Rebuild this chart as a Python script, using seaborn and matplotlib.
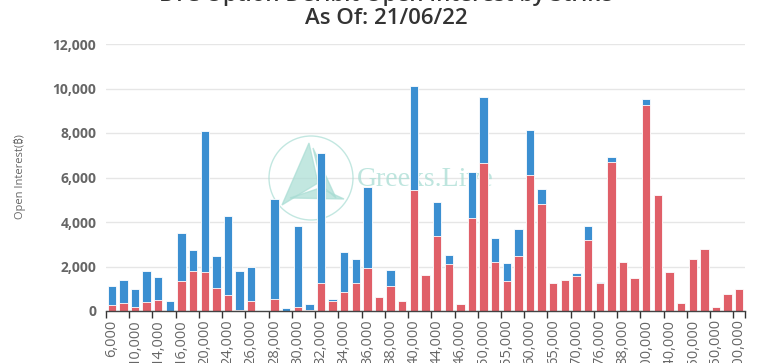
import matplotlib
matplotlib.use("Agg")
import matplotlib.pyplot as plt
import seaborn as sns
import pandas as pd
from matplotlib.patches import Ellipse, Polygon
from matplotlib.ticker import FuncFormatter

# strikes (category axis), call OI (red, bottom) and put OI (blue, stacked on top)
strikes = ["6,000", "8,000", "10,000", "12,000", "14,000", "15,000", "16,000", "18,000",
           "20,000", "22,000", "24,000", "25,000", "26,000", "27,000", "28,000", "29,000",
           "30,000", "31,000", "32,000", "33,000", "34,000", "35,000", "36,000", "37,000",
           "38,000", "39,000", "40,000", "42,000", "44,000", "45,000", "46,000", "48,000",
           "50,000", "52,000", "55,000", "58,000", "60,000", "62,000", "65,000", "68,000",
           "70,000", "72,000", "76,000", "80,000", "88,000", "90,000", "100,000", "120,000",
           "140,000", "145,000", "150,000", "200,000", "250,000", "300,000", "400,000"]
calls_oi = [270, 380, 180, 390, 510, 0, 1350, 1800, 1750, 1020, 720, 40, 450, 0,
            520, 0, 160, 30, 1250, 460, 850, 1260, 1920, 625, 1145, 460, 5430, 1640,
            3375, 2100, 330, 4180, 6650, 2220, 1370, 2480, 6100, 4820, 1280, 1400,
            1590, 3200, 1260, 6680, 2190, 1490, 9260, 5230, 1750, 340, 2340, 2770,
            160, 770, 1000]
puts_oi = [860, 1020, 810, 1400, 1040, 470, 2150, 950, 6340, 1460, 3530, 1780, 1520, 0,
           4530, 150, 3660, 300, 5870, 90, 1810, 1060, 3660, 0, 715, 0, 4670, 0,
           1530, 430, 0, 2070, 2970, 1040, 800, 1190, 2040, 680, 0, 0,
           120, 620, 50, 240, 0, 0, 250, 0, 0, 0, 0, 0,
           0, 0, 0]

BLUE = "#3b8fd1"
RED = "#e05f68"

sns.set_theme(style="white")
plt.rcParams['font.family'] = ['Open Sans', 'Noto Sans', 'DejaVu Sans']

df = pd.DataFrame({"strike": strikes, "calls": calls_oi, "puts": puts_oi})
df["total"] = df["calls"] + df["puts"]

W, H = 764, 363
fig = plt.figure(figsize=(W / 100, H / 100), dpi=100)
ax = fig.add_axes([106 / W, 52 / H, 639 / W, 267 / H])

# watermark (behind bars)
def fx(px):
    return px / W

def fy(py):
    return 1 - py / H

wm = "#a9ddd4"
ax.add_patch(Ellipse((fx(311), fy(178)), 84 / W, 84 / H, transform=fig.transFigure,
                     fill=False, edgecolor=wm, linewidth=1, alpha=0.7, zorder=0.6))
ax.add_patch(Polygon([(fx(309), fy(143)), (fx(282), fy(205)), (fx(318), fy(183))],
                     transform=fig.transFigure, color=wm, alpha=0.7, zorder=0.6))
ax.add_patch(Polygon([(fx(313), fy(148)), (fx(336), fy(198)), (fx(322), fy(186))],
                     transform=fig.transFigure, color=wm, alpha=0.7, zorder=0.6))
ax.add_patch(Polygon([(fx(290), fy(198)), (fx(344), fy(199)), (fx(320), fy(188))],
                     transform=fig.transFigure, color=wm, alpha=0.7, zorder=0.6))
ax.text(fx(357), fy(179), "Greeks.Live", fontsize=20, color=wm, alpha=0.75,
        family=['Liberation Serif', 'DejaVu Serif'], va='center', ha='left',
        transform=fig.transFigure, zorder=0.6)

sns.barplot(data=df, x="strike", y="total", order=strikes, color=BLUE, saturation=1,
            width=0.72, errorbar=None, edgecolor="white", linewidth=0.6, ax=ax)
sns.barplot(data=df, x="strike", y="calls", order=strikes, color=RED, saturation=1,
            width=0.72, errorbar=None, edgecolor="white", linewidth=0.6, ax=ax)

ax.set_facecolor("none")
ax.set_xlim(-0.5, len(strikes) - 0.5)
ax.set_ylim(0, 12000)
ax.set_yticks(range(0, 12001, 2000))
ax.yaxis.set_major_formatter(FuncFormatter(lambda v, p: f"{int(v):,}"))
for lab in ax.get_yticklabels():
    lab.set_fontweight("bold")
ax.tick_params(axis='y', length=0, pad=7, labelsize=10, labelcolor="#666666")

ax.set_xticks(range(0, len(strikes), 2))
ax.set_xticklabels(strikes[::2], rotation=90, fontsize=10.5, color="#666666")
ax.set_xticks([i - 0.5 for i in range(0, len(strikes), 2)] + [len(strikes) - 0.5], minor=True)
ax.tick_params(axis='x', which='major', length=0, pad=6)
ax.tick_params(axis='x', which='minor', length=5, width=1, color="#333333", bottom=True)

ax.set_xlabel("")
ax.set_ylabel("")
ax.yaxis.grid(True, color="#e6e6e6", linewidth=1)
ax.xaxis.grid(False)
ax.set_axisbelow(True)
for s in ["top", "right", "left"]:
    ax.spines[s].set_visible(False)
ax.spines["bottom"].set_color("#444444")
ax.spines["bottom"].set_linewidth(1)

fig.text(fx(20), fy(177), "Open Interest(₿)", rotation=90, fontsize=8, color="#666666",
         ha='center', va='center')
fig.text(0.505, fy(-4), "BTC Option Deribit Open Interest by Strike", fontsize=16,
         fontweight='semibold', color="#333333", ha='center', va='center')
fig.text(0.505, fy(19), "As Of: 21/06/22", fontsize=16, fontweight='semibold',
         color="#333333", ha='center', va='center')

fig.savefig("out.png", dpi=100)
